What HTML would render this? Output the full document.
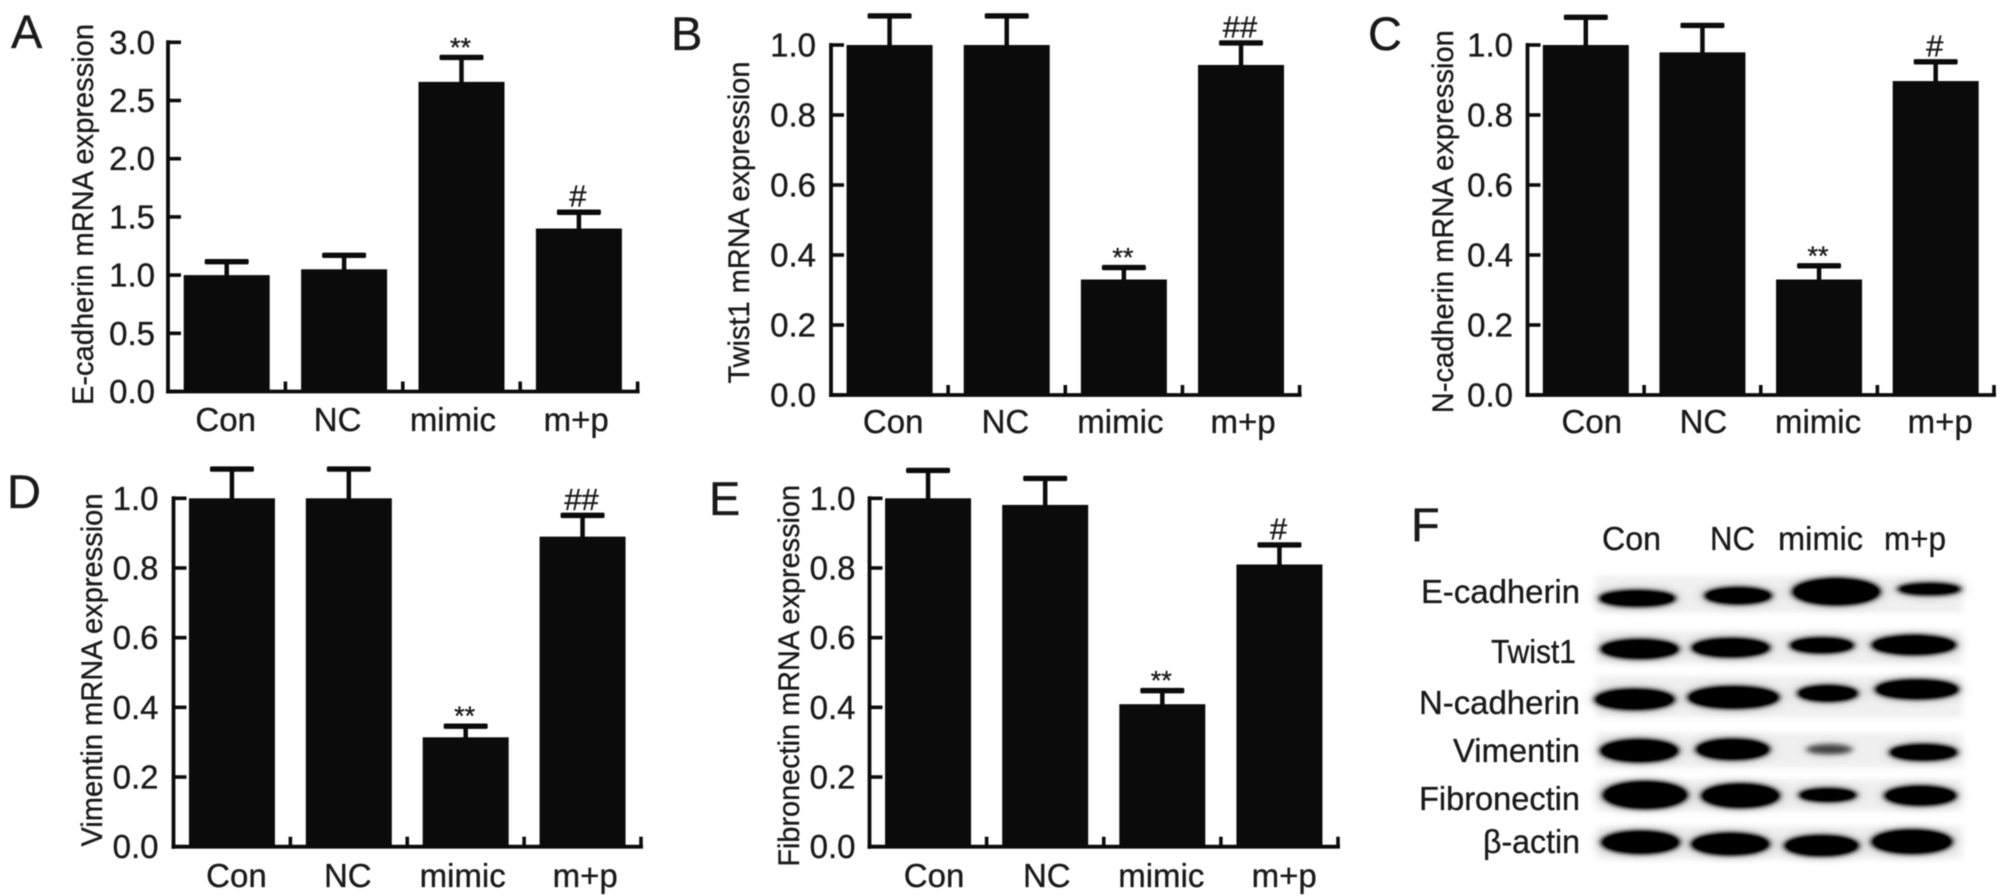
<!DOCTYPE html>
<html lang="en">
<head>
<meta charset="utf-8">
<title>mRNA and protein expression panels</title>
<style>
  html, body { margin: 0; padding: 0; background: #fff; }
  svg { display: block; filter: blur(0.55px); }
  text { font-family: "Liberation Sans", "DejaVu Sans", sans-serif; fill: #1a1a1a; stroke: #1a1a1a; stroke-width: 0.35px; }
</style>
</head>
<body>
<svg id="figure" xmlns="http://www.w3.org/2000/svg" width="2008" height="896" viewBox="0 0 2008 896">
  <defs>
    <filter id="band-blur" filterUnits="userSpaceOnUse" x="400" y="150" width="1168" height="1000">
      <feGaussianBlur in="SourceGraphic" stdDeviation="20 15" result="wide"/>
      <feComponentTransfer in="wide" result="halo"><feFuncA type="linear" slope="0.5"/></feComponentTransfer>
      <feGaussianBlur in="SourceGraphic" stdDeviation="8 7" result="tight"/>
      <feComponentTransfer in="tight" result="core"><feFuncA type="linear" slope="1.5"/></feComponentTransfer>
      <feMerge><feMergeNode in="halo"/><feMergeNode in="core"/></feMerge>
    </filter>
    <filter id="row-blur" filterUnits="userSpaceOnUse" x="400" y="150" width="1168" height="1000">
      <feGaussianBlur stdDeviation="9 8"/>
    </filter>
  </defs>
  <rect x="0" y="0" width="2008" height="896" fill="#ffffff"/>

  <g id="charts"></g>

  <g>
    <text x="1411" y="541" font-size="47">F</text>
    <text x="1602" y="550" font-size="33" textLength="59" lengthAdjust="spacingAndGlyphs">Con</text>
    <text x="1710" y="550" font-size="33" textLength="45" lengthAdjust="spacingAndGlyphs">NC</text>
    <text x="1778" y="550" font-size="33" textLength="85" lengthAdjust="spacingAndGlyphs">mimic</text>
    <text x="1884" y="550" font-size="33" textLength="62" lengthAdjust="spacingAndGlyphs">m+p</text>

    <text x="1421" y="603" font-size="33" textLength="159" lengthAdjust="spacingAndGlyphs">E-cadherin</text>
    <text x="1491" y="663" font-size="33" textLength="85" lengthAdjust="spacingAndGlyphs">Twist1</text>
    <text x="1419" y="714" font-size="33" textLength="161" lengthAdjust="spacingAndGlyphs">N-cadherin</text>
    <text x="1453" y="762" font-size="33" textLength="127" lengthAdjust="spacingAndGlyphs">Vimentin</text>
    <text x="1419" y="810" font-size="33" textLength="161" lengthAdjust="spacingAndGlyphs">Fibronectin</text>
    <text x="1483" y="853" font-size="33" textLength="97" lengthAdjust="spacingAndGlyphs">β-actin</text>

    <g transform="translate(1400,500) scale(0.3878,0.3333)">
      <g fill="#f0f0f0" filter="url(#row-blur)">
        <rect x="505" y="228" width="945" height="110"/>
        <rect x="505" y="392" width="945" height="100"/>
        <rect x="505" y="528" width="945" height="125"/>
        <rect x="505" y="698" width="945" height="105"/>
        <rect x="505" y="838" width="945" height="95"/>
        <rect x="505" y="978" width="945" height="100"/>
      </g>
      <g fill="#000" filter="url(#band-blur)">
        <ellipse cx="612" cy="295" rx="98" ry="23"/>
        <ellipse cx="872" cy="287" rx="86" ry="24"/>
        <ellipse cx="1125" cy="275" rx="112" ry="39"/>
        <ellipse cx="1365" cy="267" rx="82" ry="17" opacity="0.92"/>

        <ellipse cx="618" cy="447" rx="100" ry="28"/>
        <ellipse cx="853" cy="443" rx="100" ry="27"/>
        <ellipse cx="1088" cy="436" rx="82" ry="22"/>
        <ellipse cx="1325" cy="435" rx="108" ry="28"/>

        <ellipse cx="605" cy="598" rx="102" ry="30"/>
        <ellipse cx="860" cy="592" rx="117" ry="32"/>
        <ellipse cx="1103" cy="580" rx="77" ry="23"/>
        <ellipse cx="1333" cy="568" rx="107" ry="28"/>

        <ellipse cx="617" cy="752" rx="100" ry="33"/>
        <ellipse cx="858" cy="748" rx="94" ry="30"/>
        <ellipse cx="1107" cy="748" rx="60" ry="15" opacity="0.45"/>
        <ellipse cx="1350" cy="757" rx="87" ry="23"/>

        <ellipse cx="632" cy="885" rx="108" ry="40"/>
        <ellipse cx="878" cy="887" rx="100" ry="35"/>
        <ellipse cx="1103" cy="885" rx="74" ry="19"/>
        <ellipse cx="1342" cy="887" rx="92" ry="28"/>

        <ellipse cx="620" cy="1027" rx="100" ry="33"/>
        <ellipse cx="852" cy="1032" rx="100" ry="32"/>
        <ellipse cx="1087" cy="1037" rx="95" ry="30"/>
        <ellipse cx="1320" cy="1025" rx="103" ry="35"/>
      </g>
    </g>
  </g>
</svg>

<script>
// ---- chart data ----
const categories = ['Con', 'NC', 'mimic', 'm+p'];

const ticksA = ['0.0', '0.5', '1.0', '1.5', '2.0', '2.5', '3.0'];
const ticksUnit = ['0.0', '0.2', '0.4', '0.6', '0.8', '1.0'];

const valuesA = [1.0, 1.05, 2.66, 1.40];
const errorTopsA = [1.115, 1.17, 2.87, 1.54];
const marksA = ['', '', '**', '#'];

const valuesB = [1.0, 1.0, 0.33, 0.943];
const errorTopsB = [1.083, 1.083, 0.364, 1.006];
const marksB = ['', '', '**', '##'];

const valuesC = [1.0, 0.979, 0.33, 0.897];
const errorTopsC = [1.079, 1.056, 0.369, 0.952];
const marksC = ['', '', '**', '#'];

const valuesD = [1.0, 1.0, 0.314, 0.89];
const errorTopsD = [1.084, 1.084, 0.346, 0.951];
const marksD = ['', '', '**', '##'];

const valuesE = [1.0, 0.981, 0.409, 0.81];
const errorTopsE = [1.08, 1.057, 0.448, 0.866];
const marksE = ['', '', '**', '#'];

// ---- panel layout ----
const panels = [
  { id: 'a', letter: 'A', letterX: 11, letterY: 48, title: 'E-cadherin mRNA expression', titleX: 93, titleLen: 381, titleCy: 214.5,
    left: 168, right: 637.6, top: 42.3, bottom: 391.5, yMax: 3, ticks: ticksA, values: valuesA, errs: errorTopsA, marks: marksA,
    tickGap: 13, labelY: 431, nudge: [-1, -6.5, -8.6, -2.7] },
  { id: 'b', letter: 'B', letterX: 671, letterY: 50, title: 'Twist1 mRNA expression', titleX: 749, titleLen: 322, titleCy: 222.5,
    left: 831, right: 1299.6, top: 45, bottom: 395, yMax: 1, ticks: ticksUnit, values: valuesB, errs: errorTopsB, marks: marksB,
    tickGap: 15, labelY: 433, nudge: [3.6, -1.3, -3.5, 2] },
  { id: 'c', letter: 'C', letterX: 1368, letterY: 50, title: 'N-cadherin mRNA expression', titleX: 1453, titleLen: 383, titleCy: 221.7,
    left: 1527.5, right: 1994, top: 45, bottom: 395, yMax: 1, ticks: ticksUnit, values: valuesC, errs: errorTopsC, marks: marksC,
    tickGap: 14.5, labelY: 433, nudge: [6, 1, -1, 4.5] },
  { id: 'd', letter: 'D', letterX: 7, letterY: 508, title: 'Vimentin mRNA expression', titleX: 102, titleLen: 353, titleCy: 670,
    left: 173.5, right: 641, top: 498.3, bottom: 846.7, yMax: 1, ticks: ticksUnit, values: valuesD, errs: errorTopsD, marks: marksD,
    tickGap: 15, labelY: 887, nudge: [4.5, -1, -3, 2.6] },
  { id: 'e', letter: 'E', letterX: 709, letterY: 515, title: 'Fibronectin mRNA expression', titleX: 799, titleLen: 381.7, titleCy: 675.8,
    left: 869.5, right: 1338, top: 498.3, bottom: 846.7, yMax: 1, ticks: ticksUnit, values: valuesE, errs: errorTopsE, marks: marksE,
    tickGap: 14, labelY: 887, nudge: [6, 1.6, -1, 4.8] }
];

const SVG_NS = 'http://www.w3.org/2000/svg';
const BAR_W = 86, CAP_W = 44, INK = '#0b0b0b';

function make(parent, tag, attrs, text) {
  const node = document.createElementNS(SVG_NS, tag);
  for (const k in attrs) node.setAttribute(k, attrs[k]);
  if (text !== undefined) node.textContent = text;
  parent.appendChild(node);
  return node;
}

function drawPanel(p) {
  const root = document.getElementById('charts');
  const band = (p.right - p.left) / categories.length;
  const xCenter = i => p.left + band * (i + 0.5);
  const yScale = v => p.bottom - (v / p.yMax) * (p.bottom - p.top);

  const g = make(root, 'g', {});
  
  

  const letter = make(g, 'text', { x: p.letterX, y: p.letterY, 'font-size': 47 }, p.letter);
  
  

  const title = make(g, 'text', {
    transform: 'translate(' + p.titleX + ',' + p.titleCy + ') rotate(-90)',
    'text-anchor': 'middle', 'font-size': 29.5,
    textLength: p.titleLen, lengthAdjust: 'spacingAndGlyphs'
  }, p.title);
  
  

  // bars and error bars
  categories.forEach((cat, i) => {
    const cx = xCenter(i);
    const top = yScale(p.values[i]);
    const capY = yScale(p.errs[i]);

    const stem = make(g, 'line', { x1: cx, x2: cx, y1: top + 2, y2: capY, stroke: INK, 'stroke-width': 4.5 });
    
    

    const cap = make(g, 'rect', { x: cx - CAP_W / 2, y: capY - 2.7, width: CAP_W, height: 5.4, rx: 1.5, fill: INK });
    
    

    const bar = make(g, 'rect', { x: cx - BAR_W / 2, y: top, width: BAR_W, height: p.bottom - top, fill: INK });
    
    

    const mark = p.marks[i];
    if (mark) {
      const isStar = mark.charAt(0) === '*';
      const sig = make(g, 'text', {
        x: cx - 1, y: isStar ? capY - 1 : capY - 5.5, 'text-anchor': 'middle',
        'font-size': isStar ? 27 : 31
      }, mark);
      
      
    }

    const label = make(g, 'text', {
      x: cx + p.nudge[i], y: p.labelY, 'text-anchor': 'middle', 'font-size': 33
    }, cat);
    
    

    const xTick = make(g, 'line', {
      x1: p.left + band * (i + 1), x2: p.left + band * (i + 1),
      y1: p.bottom, y2: p.bottom - 10, stroke: INK, 'stroke-width': 3.6
    });
    
    
  });

  // axes
  const yAxis = make(g, 'line', { x1: p.left, x2: p.left, y1: p.top - 2, y2: p.bottom + 2, stroke: INK, 'stroke-width': 3.8 });
  
  

  const xAxis = make(g, 'line', { x1: p.left - 2, x2: p.right + 2, y1: p.bottom, y2: p.bottom, stroke: INK, 'stroke-width': 3.8 });
  
  

  p.ticks.forEach(t => {
    const y = yScale(parseFloat(t));
    const tick = make(g, 'line', { x1: p.left, x2: p.left + 13, y1: y, y2: y, stroke: INK, 'stroke-width': 3.6 });
    
    

    const lab = make(g, 'text', {
      x: p.left - p.tickGap, y: y + 11.5, 'text-anchor': 'end', 'font-size': 33
    }, t);
    
    
  });
}

panels.forEach(drawPanel);
</script>
</body>
</html>
